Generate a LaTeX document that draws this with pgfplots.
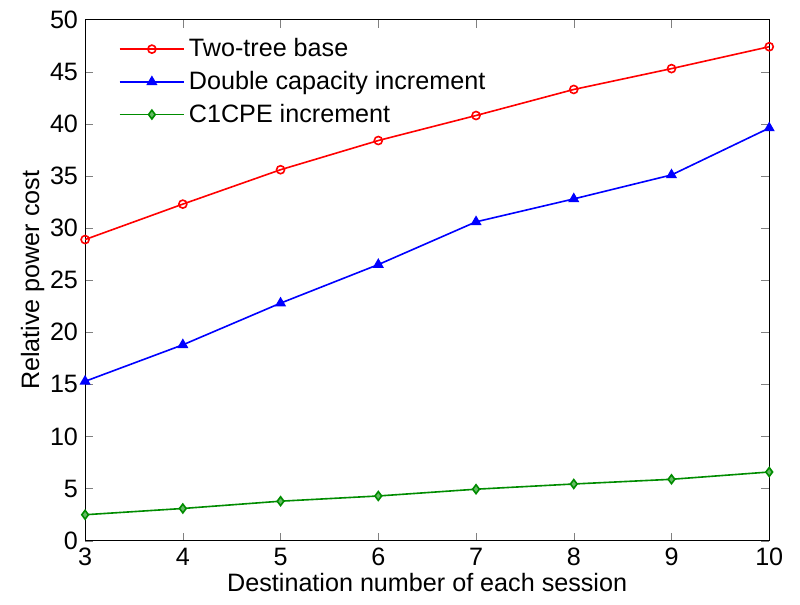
\documentclass[border=0pt]{standalone}
\usepackage{pgfplots}
\pgfplotsset{compat=1.18}
\usepackage{fontspec}
\setmainfont{Liberation Sans}
\definecolor{mgreen}{RGB}{0,140,0}

\begin{document}
\begin{tikzpicture}[font=\fontsize{12.5}{14}\selectfont]
\begin{axis}[
    scale only axis,
    width=340pt, height=259pt,
    xmin=3, xmax=10, ymin=0, ymax=50,
    xtick={3,...,10}, ytick={0,5,...,50},
    tick align=inside,
    tick pos=both,
    major tick length=4pt,
    /pgf/number format/assume math mode=true,
    xlabel={Destination number of each session},
    ylabel={Relative power cost},
    xlabel style={yshift=3pt},
    ylabel style={yshift=-4pt},
    every axis plot/.append style={line width=0.8pt},
    legend style={draw=none, fill=none, at={(axis description cs:0.04,0.98)}, anchor=north west,
        row sep=1.7pt, font=\fontsize{12.5}{14}\selectfont},
    legend cell align=left,
    legend image code/.code={
        \draw[#1] (0pt,0pt) -- (32pt,0pt);
        \draw[#1, only marks] plot coordinates {(16pt,0pt)};
    },
]
\addplot[red, mark=o, mark size=2pt] coordinates {
(3,28.9) (4,32.3) (5,35.6) (6,38.4) (7,40.8) (8,43.3) (9,45.3) (10,47.4)};
\addlegendentry{Two-tree base}
\addplot[blue, mark=triangle*, mark size=2.4pt] coordinates {
(3,15.3) (4,18.8) (5,22.8) (6,26.5) (7,30.6) (8,32.8) (9,35.1) (10,39.6)};
\addlegendentry{Double capacity increment}
\addplot[mgreen, mark=diamond*, mark size=2.2pt, mark options={fill=mgreen!60}] coordinates {
(3,2.5) (4,3.1) (5,3.8) (6,4.3) (7,4.95) (8,5.45) (9,5.9) (10,6.6)};
\addlegendentry{C1CPE increment}
\end{axis}
\path (current bounding box.south west) ++(-7pt,-3pt);
\path (current bounding box.north east) ++(5pt,2pt);
\end{tikzpicture}
\end{document}
